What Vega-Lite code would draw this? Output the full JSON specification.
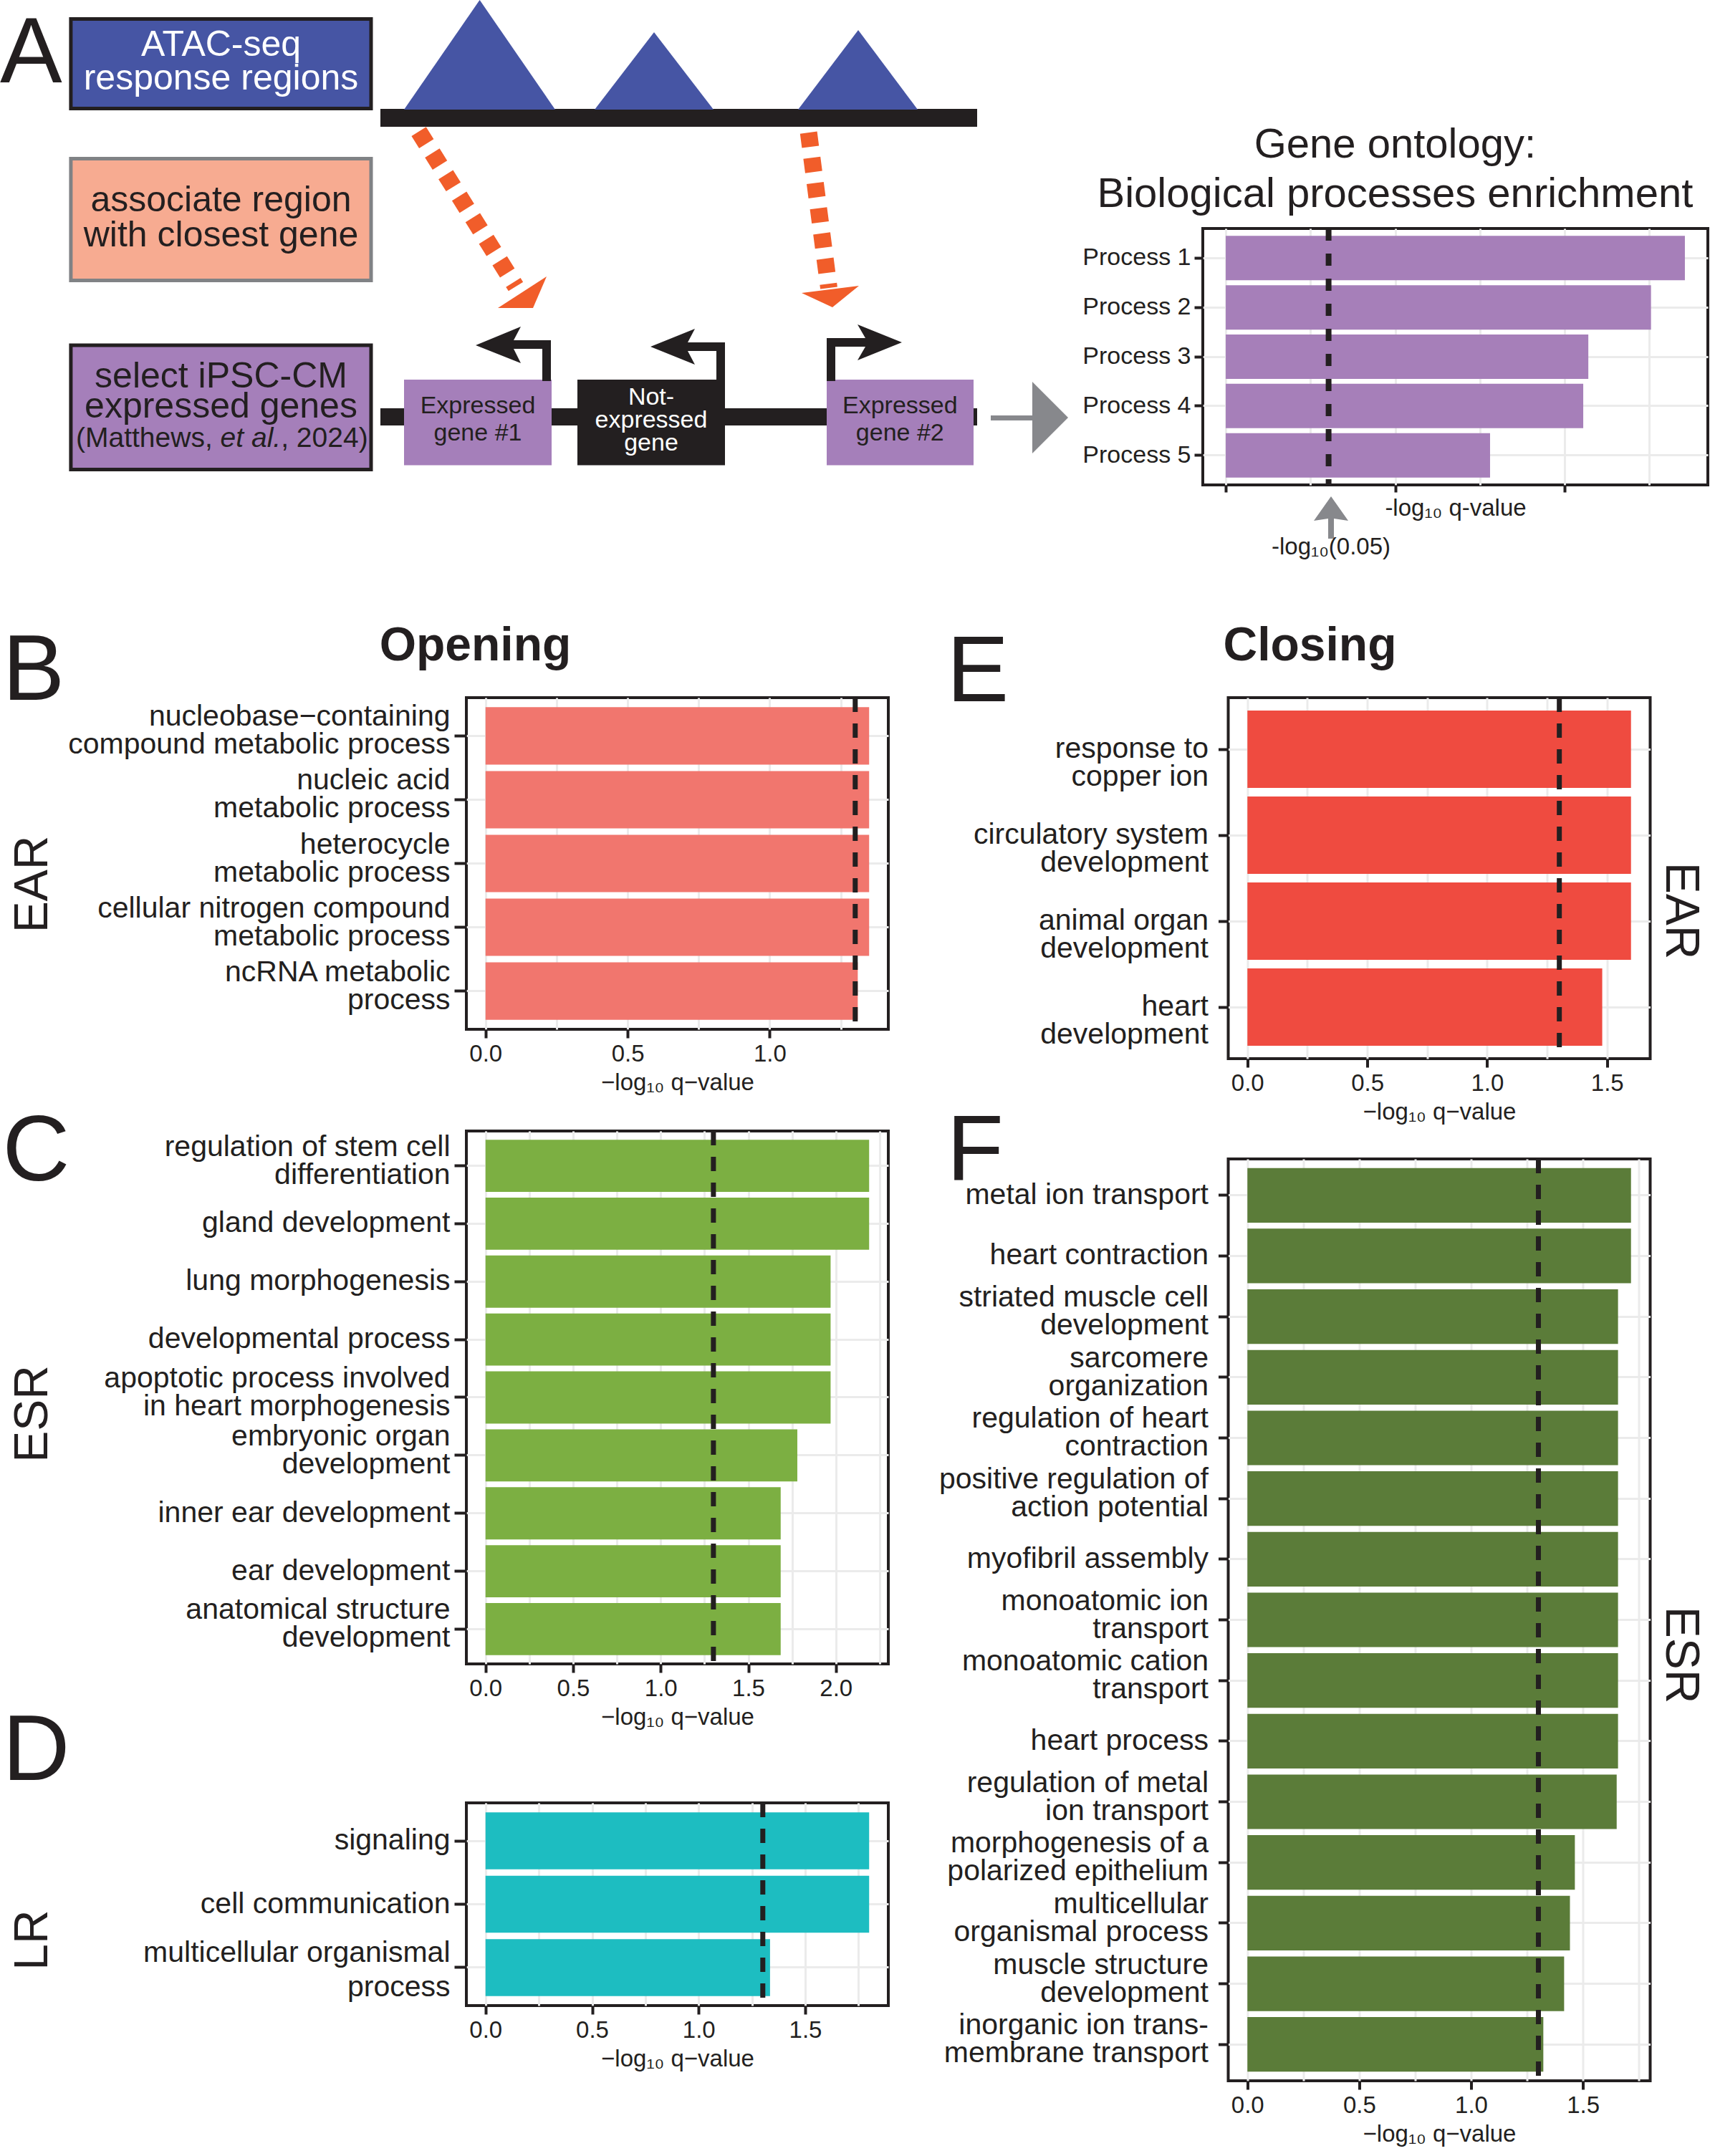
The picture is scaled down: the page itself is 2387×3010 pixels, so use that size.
{
  "$schema": "https://vega.github.io/schema/vega-lite/v6.json",
  "padding": 0,
  "background": "white",
  "bounds": "flush",
  "spacing": 655,
  "config": {
    "font": "Liberation Sans",
    "view": {"stroke": "#231F20", "strokeWidth": 4},
    "axis": {"labelFont": "Liberation Sans", "titleFont": "Liberation Sans", "labelColor": "#231F20", "titleColor": "#231F20", "tickColor": "#231F20", "tickWidth": 4, "gridColor": "#EBEBEB", "gridWidth": 3, "domain": false, "titleFontWeight": "normal", "labelLimit": 1000},
    "title": {"font": "Liberation Sans", "color": "#231F20", "fontWeight": "normal"},
    "text": {"font": "Liberation Sans"}
  },
  "vconcat": [
    {
      "hconcat": [
        {
          "width": 554, "height": 617,
          "view": {"stroke": null},
          "layer": [
            {
              "data": {"values": [
                {"x": 53.1, "x2": 136.4, "y": 15.2, "y2": 17.7, "k": "black"},
                {"x": 53.1, "x2": 136.4, "y": 57.0, "y2": 59.4, "k": "black"},
                {"x": 56.4, "x2": 77.0, "y": 53.0, "y2": 64.95, "k": "purple"},
                {"x": 80.6, "x2": 101.2, "y": 53.0, "y2": 64.95, "k": "black"},
                {"x": 115.4, "x2": 135.9, "y": 53.0, "y2": 64.95, "k": "purple"}
              ]},
              "mark": {"type": "rect", "strokeWidth": 0},
              "encoding": {
                "x": {"field": "x", "type": "quantitative", "scale": {"domain": [65.1, 120.5], "nice": false, "zero": false}, "axis": null},
                "x2": {"field": "x2"},
                "y": {"field": "y", "type": "quantitative", "scale": {"domain": [31.9, 93.6], "nice": false, "zero": false, "reverse": true}, "axis": null},
                "y2": {"field": "y2"},
                "color": {"field": "k", "type": "nominal", "scale": {"domain": ["blue", "salmon", "purple", "black", "orange", "gray", "white"], "range": ["#4655A4", "#F7AB91", "#A57FBA", "#231F20", "#F15D2A", "#87888C", "#FFFFFF"]}, "legend": null}
              }
            },
            {
              "data": {"values": [
                {"x": 9.89, "x2": 51.8, "y": 2.65, "y2": 15.15, "k": "blue", "e": "black"},
                {"x": 9.89, "x2": 51.8, "y": 22.15, "y2": 39.15, "k": "salmon", "e": "gray"},
                {"x": 9.89, "x2": 51.8, "y": 48.2, "y2": 65.55, "k": "purple", "e": "black"}
              ]},
              "mark": {"type": "rect", "strokeWidth": 5},
              "encoding": {
                "x": {"field": "x", "type": "quantitative", "scale": {"domain": [65.1, 120.5], "nice": false, "zero": false}, "axis": null},
                "x2": {"field": "x2"},
                "y": {"field": "y", "type": "quantitative", "scale": {"domain": [31.9, 93.6], "nice": false, "zero": false, "reverse": true}, "axis": null},
                "y2": {"field": "y2"},
                "color": {"field": "k", "type": "nominal", "scale": {"domain": ["blue", "salmon", "purple", "black", "orange", "gray", "white"], "range": ["#4655A4", "#F7AB91", "#A57FBA", "#231F20", "#F15D2A", "#87888C", "#FFFFFF"]}, "legend": null},
                "stroke": {"field": "e", "type": "nominal", "scale": {"domain": ["black", "gray"], "range": ["#231F20", "#808285"]}, "legend": null}
              }
            },
            {
              "data": {"values": [
                {"s": "T1", "i": 1, "x": 56.4, "y": 15.3, "k": "blue"},
                {"s": "T1", "i": 2, "x": 66.96, "y": 0.0, "k": "blue"},
                {"s": "T1", "i": 3, "x": 77.5, "y": 15.3, "k": "blue"},
                {"s": "T2", "i": 1, "x": 83.0, "y": 15.3, "k": "blue"},
                {"s": "T2", "i": 2, "x": 91.3, "y": 4.5, "k": "blue"},
                {"s": "T2", "i": 3, "x": 99.6, "y": 15.3, "k": "blue"},
                {"s": "T3", "i": 1, "x": 111.4, "y": 15.3, "k": "blue"},
                {"s": "T3", "i": 2, "x": 119.8, "y": 4.2, "k": "blue"},
                {"s": "T3", "i": 3, "x": 128.1, "y": 15.3, "k": "blue"},
                {"s": "A1", "i": 1, "x": 76.9, "y": 53.2, "k": "black"},
                {"s": "A1", "i": 2, "x": 76.9, "y": 47.5, "k": "black"},
                {"s": "A1", "i": 3, "x": 71.7, "y": 47.5, "k": "black"},
                {"s": "A1", "i": 4, "x": 72.7, "y": 45.6, "k": "black"},
                {"s": "A1", "i": 5, "x": 66.4, "y": 48.2, "k": "black"},
                {"s": "A1", "i": 6, "x": 72.7, "y": 50.7, "k": "black"},
                {"s": "A1", "i": 7, "x": 71.7, "y": 48.7, "k": "black"},
                {"s": "A1", "i": 8, "x": 75.7, "y": 48.7, "k": "black"},
                {"s": "A1", "i": 9, "x": 75.7, "y": 53.2, "k": "black"},
                {"s": "A2", "i": 1, "x": 101.2, "y": 53.2, "k": "black"},
                {"s": "A2", "i": 2, "x": 101.2, "y": 47.8, "k": "black"},
                {"s": "A2", "i": 3, "x": 96.0, "y": 47.8, "k": "black"},
                {"s": "A2", "i": 4, "x": 97.0, "y": 45.9, "k": "black"},
                {"s": "A2", "i": 5, "x": 90.8, "y": 48.4, "k": "black"},
                {"s": "A2", "i": 6, "x": 97.0, "y": 50.9, "k": "black"},
                {"s": "A2", "i": 7, "x": 96.0, "y": 49.0, "k": "black"},
                {"s": "A2", "i": 8, "x": 100.0, "y": 49.0, "k": "black"},
                {"s": "A2", "i": 9, "x": 100.0, "y": 53.2, "k": "black"},
                {"s": "A3", "i": 1, "x": 115.4, "y": 53.2, "k": "black"},
                {"s": "A3", "i": 2, "x": 115.4, "y": 47.2, "k": "black"},
                {"s": "A3", "i": 3, "x": 120.8, "y": 47.2, "k": "black"},
                {"s": "A3", "i": 4, "x": 119.7, "y": 45.3, "k": "black"},
                {"s": "A3", "i": 5, "x": 125.9, "y": 47.8, "k": "black"},
                {"s": "A3", "i": 6, "x": 119.7, "y": 50.3, "k": "black"},
                {"s": "A3", "i": 7, "x": 120.8, "y": 48.4, "k": "black"},
                {"s": "A3", "i": 8, "x": 116.6, "y": 48.4, "k": "black"},
                {"s": "A3", "i": 9, "x": 116.6, "y": 53.2, "k": "black"},
                {"s": "H1", "i": 1, "x": 76.3, "y": 38.6, "k": "orange"},
                {"s": "H1", "i": 2, "x": 74.4, "y": 43.0, "k": "orange"},
                {"s": "H1", "i": 3, "x": 69.5, "y": 43.0, "k": "orange"},
                {"s": "H2", "i": 1, "x": 111.9, "y": 40.9, "k": "orange"},
                {"s": "H2", "i": 2, "x": 119.9, "y": 39.9, "k": "orange"},
                {"s": "H2", "i": 3, "x": 116.2, "y": 42.9, "k": "orange"},
                {"s": "G1", "i": 1, "x": 138.3, "y": 58.0, "k": "gray"},
                {"s": "G1", "i": 2, "x": 144.1, "y": 58.0, "k": "gray"},
                {"s": "G1", "i": 3, "x": 144.1, "y": 53.3, "k": "gray"},
                {"s": "G1", "i": 4, "x": 149.1, "y": 58.3, "k": "gray"},
                {"s": "G1", "i": 5, "x": 144.1, "y": 63.3, "k": "gray"},
                {"s": "G1", "i": 6, "x": 144.1, "y": 58.7, "k": "gray"},
                {"s": "G1", "i": 7, "x": 138.3, "y": 58.7, "k": "gray"},
                {"s": "G2", "i": 1, "x": 185.4, "y": 75.2, "k": "gray"},
                {"s": "G2", "i": 2, "x": 185.4, "y": 72.4, "k": "gray"},
                {"s": "G2", "i": 3, "x": 183.4, "y": 72.7, "k": "gray"},
                {"s": "G2", "i": 4, "x": 185.8, "y": 69.3, "k": "gray"},
                {"s": "G2", "i": 5, "x": 188.2, "y": 72.7, "k": "gray"},
                {"s": "G2", "i": 6, "x": 186.2, "y": 72.4, "k": "gray"},
                {"s": "G2", "i": 7, "x": 186.2, "y": 75.2, "k": "gray"}
              ]},
              "mark": {"type": "line", "filled": true, "strokeWidth": 0},
              "encoding": {
                "x": {"field": "x", "type": "quantitative", "scale": {"domain": [65.1, 120.5], "nice": false, "zero": false}, "axis": null},
                "y": {"field": "y", "type": "quantitative", "scale": {"domain": [31.9, 93.6], "nice": false, "zero": false, "reverse": true}, "axis": null},
                "detail": {"field": "s", "type": "nominal"},
                "order": {"field": "i", "type": "quantitative"},
                "color": {"field": "k", "type": "nominal", "scale": {"domain": ["blue", "salmon", "purple", "black", "orange", "gray", "white"], "range": ["#4655A4", "#F7AB91", "#A57FBA", "#231F20", "#F15D2A", "#87888C", "#FFFFFF"]}, "legend": null}
              }
            },
            {
              "data": {"values": [
                {"s": "D1", "i": 1, "x": 58.46, "y": 18.36, "k": "orange"},
                {"s": "D1", "i": 2, "x": 72.0, "y": 40.0, "k": "orange"},
                {"s": "D2", "i": 1, "x": 112.87, "y": 18.51, "k": "orange"},
                {"s": "D2", "i": 2, "x": 115.7, "y": 40.2, "k": "orange"}
              ]},
              "mark": {"type": "line", "strokeWidth": 24, "strokeDash": [20, 15.5], "strokeCap": "butt"},
              "encoding": {
                "x": {"field": "x", "type": "quantitative", "scale": {"domain": [65.1, 120.5], "nice": false, "zero": false}, "axis": null},
                "y": {"field": "y", "type": "quantitative", "scale": {"domain": [31.9, 93.6], "nice": false, "zero": false, "reverse": true}, "axis": null},
                "detail": {"field": "s", "type": "nominal"},
                "order": {"field": "i", "type": "quantitative"},
                "color": {"field": "k", "type": "nominal", "scale": {"domain": ["blue", "salmon", "purple", "black", "orange", "gray", "white"], "range": ["#4655A4", "#F7AB91", "#A57FBA", "#231F20", "#F15D2A", "#87888C", "#FFFFFF"]}, "legend": null}
              }
            },
            {
              "data": {"values": [{"t": "A", "x": 0, "y": 11.48, "k": "black"}]},
              "mark": {"type": "text", "fontSize": 130, "align": "left", "baseline": "alphabetic"},
              "encoding": {
                "x": {"field": "x", "type": "quantitative", "scale": {"domain": [65.1, 120.5], "nice": false, "zero": false}, "axis": null},
                "y": {"field": "y", "type": "quantitative", "scale": {"domain": [31.9, 93.6], "nice": false, "zero": false, "reverse": true}, "axis": null},
                "text": {"field": "t"},
                "color": {"field": "k", "type": "nominal", "scale": {"domain": ["blue", "salmon", "purple", "black", "orange", "gray", "white"], "range": ["#4655A4", "#F7AB91", "#A57FBA", "#231F20", "#F15D2A", "#87888C", "#FFFFFF"]}, "legend": null}
              }
            },
            {
              "data": {"values": [
                {"t": "ATAC-seq", "x": 30.85, "y": 7.76, "k": "white"},
                {"t": "response regions", "x": 30.85, "y": 12.5, "k": "white"},
                {"t": "associate region", "x": 30.85, "y": 29.5, "k": "black"},
                {"t": "with closest gene", "x": 30.85, "y": 34.4, "k": "black"},
                {"t": "select iPSC-CM", "x": 30.85, "y": 54.1, "k": "black"},
                {"t": "expressed genes", "x": 30.85, "y": 58.3, "k": "black"}
              ]},
              "mark": {"type": "text", "fontSize": 50, "align": "center", "baseline": "alphabetic"},
              "encoding": {
                "x": {"field": "x", "type": "quantitative", "scale": {"domain": [65.1, 120.5], "nice": false, "zero": false}, "axis": null},
                "y": {"field": "y", "type": "quantitative", "scale": {"domain": [31.9, 93.6], "nice": false, "zero": false, "reverse": true}, "axis": null},
                "text": {"field": "t"},
                "color": {"field": "k", "type": "nominal", "scale": {"domain": ["blue", "salmon", "purple", "black", "orange", "gray", "white"], "range": ["#4655A4", "#F7AB91", "#A57FBA", "#231F20", "#F15D2A", "#87888C", "#FFFFFF"]}, "legend": null}
              }
            },
            {
              "data": {"values": [
                {"t": "(Matthews,", "x": 10.6, "y": 62.35, "k": "black"},
                {"t": ", 2024)", "x": 39.22, "y": 62.35, "k": "black"}
              ]},
              "mark": {"type": "text", "fontSize": 39, "align": "left", "baseline": "alphabetic"},
              "encoding": {
                "x": {"field": "x", "type": "quantitative", "scale": {"domain": [65.1, 120.5], "nice": false, "zero": false}, "axis": null},
                "y": {"field": "y", "type": "quantitative", "scale": {"domain": [31.9, 93.6], "nice": false, "zero": false, "reverse": true}, "axis": null},
                "text": {"field": "t"},
                "color": {"field": "k", "type": "nominal", "scale": {"domain": ["blue", "salmon", "purple", "black", "orange", "gray", "white"], "range": ["#4655A4", "#F7AB91", "#A57FBA", "#231F20", "#F15D2A", "#87888C", "#FFFFFF"]}, "legend": null}
              }
            },
            {
              "data": {"values": [{"t": "et al.", "x": 30.76, "y": 62.35, "k": "black"}]},
              "mark": {"type": "text", "fontSize": 39, "fontStyle": "italic", "align": "left", "baseline": "alphabetic"},
              "encoding": {
                "x": {"field": "x", "type": "quantitative", "scale": {"domain": [65.1, 120.5], "nice": false, "zero": false}, "axis": null},
                "y": {"field": "y", "type": "quantitative", "scale": {"domain": [31.9, 93.6], "nice": false, "zero": false, "reverse": true}, "axis": null},
                "text": {"field": "t"},
                "color": {"field": "k", "type": "nominal", "scale": {"domain": ["blue", "salmon", "purple", "black", "orange", "gray", "white"], "range": ["#4655A4", "#F7AB91", "#A57FBA", "#231F20", "#F15D2A", "#87888C", "#FFFFFF"]}, "legend": null}
              }
            },
            {
              "data": {"values": [
                {"t": "Expressed", "x": 66.7, "y": 57.7, "k": "black"},
                {"t": "gene #1", "x": 66.7, "y": 61.5, "k": "black"},
                {"t": "Expressed", "x": 125.63, "y": 57.7, "k": "black"},
                {"t": "gene #2", "x": 125.63, "y": 61.5, "k": "black"},
                {"t": "Not-", "x": 90.9, "y": 56.5, "k": "white"},
                {"t": "expressed", "x": 90.9, "y": 59.7, "k": "white"},
                {"t": "gene", "x": 90.9, "y": 62.9, "k": "white"}
              ]},
              "mark": {"type": "text", "fontSize": 34, "align": "center", "baseline": "alphabetic"},
              "encoding": {
                "x": {"field": "x", "type": "quantitative", "scale": {"domain": [65.1, 120.5], "nice": false, "zero": false}, "axis": null},
                "y": {"field": "y", "type": "quantitative", "scale": {"domain": [31.9, 93.6], "nice": false, "zero": false, "reverse": true}, "axis": null},
                "text": {"field": "t"},
                "color": {"field": "k", "type": "nominal", "scale": {"domain": ["blue", "salmon", "purple", "black", "orange", "gray", "white"], "range": ["#4655A4", "#F7AB91", "#A57FBA", "#231F20", "#F15D2A", "#87888C", "#FFFFFF"]}, "legend": null}
              }
            },
            {
              "data": {"values": [{"t": "-log₁₀(0.05)", "x": 185.8, "y": 77.4, "k": "black"}]},
              "mark": {"type": "text", "fontSize": 33, "align": "center", "baseline": "alphabetic"},
              "encoding": {
                "x": {"field": "x", "type": "quantitative", "scale": {"domain": [65.1, 120.5], "nice": false, "zero": false}, "axis": null},
                "y": {"field": "y", "type": "quantitative", "scale": {"domain": [31.9, 93.6], "nice": false, "zero": false, "reverse": true}, "axis": null},
                "text": {"field": "t"},
                "color": {"field": "k", "type": "nominal", "scale": {"domain": ["blue", "salmon", "purple", "black", "orange", "gray", "white"], "range": ["#4655A4", "#F7AB91", "#A57FBA", "#231F20", "#F15D2A", "#87888C", "#FFFFFF"]}, "legend": null}
              }
            }
          ]
        },
        {
          "width": 705, "height": 358,
          "title": {"text": ["Gene ontology:", "Biological processes enrichment"], "fontSize": 58, "lineHeight": 69, "offset": 14, "anchor": "middle", "frame": "bounds"},
          "layer": [
            {
              "data": {"values": [
                {"p": "Process 1", "v": 2.71},
                {"p": "Process 2", "v": 2.51},
                {"p": "Process 3", "v": 2.14},
                {"p": "Process 4", "v": 2.11},
                {"p": "Process 5", "v": 1.56}
              ]},
              "mark": {"type": "bar", "color": "#A67FB9"},
              "encoding": {
                "y": {"field": "p", "type": "nominal", "sort": null, "scale": {"paddingInner": 0.1, "paddingOuter": 0.15}, "axis": {"title": null, "labelFontSize": 34, "tickSize": 12, "labelPadding": 5, "grid": true, "bandPosition": 0.5}},
                "x": {"field": "v", "type": "quantitative", "scale": {"domain": [-0.1355, 2.8455], "nice": false, "zero": false}, "axis": {"values": [0, 1, 2], "labels": false, "tickSize": 10, "grid": false, "title": "-log₁₀ q-value", "titleFontSize": 33, "titleY": 42.5, "titleBaseline": "alphabetic"}}
              }
            },
            {
              "data": {"values": [{"q": 0.607}]},
              "mark": {"type": "rule", "strokeDash": [17, 18], "strokeWidth": 8, "color": "#231F20"},
              "encoding": {
                "x": {"field": "q", "type": "quantitative", "scale": {"domain": [-0.1355, 2.8455], "nice": false, "zero": false}, "axis": {"orient": "top", "values": [0, 0.5, 1, 1.5, 2, 2.5], "grid": true, "labels": false, "ticks": false, "domain": false, "title": null}}
              }
            }
          ],
          "resolve": {"axis": {"x": "independent"}}
        }
      ],
      "spacing": 474,
      "bounds": "flush"
    },
    {
      "hconcat": [
        {
          "vconcat": [
            {
              "width": 589, "height": 463,
              "title": {"text": "EAR", "orient": "left", "anchor": "middle", "frame": "group", "fontSize": 66, "offset": -77, "dx": -29},
              "layer": [
                {
                  "data": {"values": [
                    {"term": "nucleobase−containing\ncompound metabolic process", "v": 1.35},
                    {"term": "nucleic acid\nmetabolic process", "v": 1.35},
                    {"term": "heterocycle\nmetabolic process", "v": 1.35},
                    {"term": "cellular nitrogen compound\nmetabolic process", "v": 1.35},
                    {"term": "ncRNA metabolic\nprocess", "v": 1.31}
                  ]},
                  "mark": {"type": "bar", "color": "#F1766E"},
                  "encoding": {
                    "y": {"field": "term", "type": "nominal", "sort": null, "scale": {"paddingInner": 0.1, "paddingOuter": 0.15}, "axis": {"title": "B", "titleAngle": 0, "titleAlign": "left", "titleBaseline": "alphabetic", "titleX": -648, "titleY": 2, "titleFontSize": 130, "labelExpr": "split(datum.label, '\\n')", "labelFontSize": 41, "labelLineHeight": 39, "labelOffset": {"condition": {"test": "indexof(datum.value, '\\n') >= 0", "value": -26}, "value": 0}, "tickSize": 17, "labelPadding": 6, "grid": true, "bandPosition": 0.5}},
                    "x": {"field": "v", "type": "quantitative", "scale": {"domain": [-0.0675, 1.4175], "nice": false, "zero": false}, "axis": {"values": [0, 0.5, 1], "format": ".1f", "grid": false, "labelFontSize": 33, "tickSize": 12, "labelPadding": 6, "title": "−log₁₀ q−value", "titleFontSize": 33, "titleY": 84, "titleBaseline": "alphabetic"}}
                  }
                },
                {
                  "data": {"values": [{"q": 1.30103}]},
                  "mark": {"type": "rule", "strokeDash": [20, 16], "strokeWidth": 7, "color": "#231F20"},
                  "encoding": {
                    "x": {"field": "q", "type": "quantitative", "scale": {"domain": [-0.0675, 1.4175], "nice": false, "zero": false}, "axis": {"orient": "top", "values": [0, 0.25, 0.5, 0.75, 1, 1.25], "grid": true, "labels": false, "ticks": false, "domain": false, "title": "Opening", "titleX": 12, "titleY": -53, "titleAlign": "center", "titleBaseline": "alphabetic", "titleAngle": 0, "titleFontSize": 66, "titleFontWeight": "bold"}}
                  }
                }
              ],
              "resolve": {"axis": {"x": "independent"}}
            },
            {"width": 589, "height": 61.5, "data": {"values": []}, "mark": "point", "view": {"stroke": null}},
            {
              "width": 589, "height": 744,
              "title": {"text": "ESR", "orient": "left", "anchor": "middle", "frame": "group", "fontSize": 66, "offset": -77, "dx": -23},
              "layer": [
                {
                  "data": {"values": [
                    {"term": "regulation of stem cell\ndifferentiation", "v": 2.19},
                    {"term": "gland development", "v": 2.19},
                    {"term": "lung morphogenesis", "v": 1.97},
                    {"term": "developmental process", "v": 1.97},
                    {"term": "apoptotic process involved\nin heart morphogenesis", "v": 1.97},
                    {"term": "embryonic organ\ndevelopment", "v": 1.78},
                    {"term": "inner ear development", "v": 1.685},
                    {"term": "ear development", "v": 1.685},
                    {"term": "anatomical structure\ndevelopment", "v": 1.685}
                  ]},
                  "mark": {"type": "bar", "color": "#7CAF42"},
                  "encoding": {
                    "y": {"field": "term", "type": "nominal", "sort": null, "scale": {"paddingInner": 0.1, "paddingOuter": 0.15}, "axis": {"title": "C", "titleAngle": 0, "titleAlign": "left", "titleBaseline": "alphabetic", "titleX": -648, "titleY": 68.5, "titleFontSize": 130, "labelExpr": "split(datum.label, '\\n')", "labelFontSize": 41, "labelLineHeight": 39, "labelOffset": {"condition": {"test": "indexof(datum.value, '\\n') >= 0", "value": -26}, "value": 0}, "tickSize": 17, "labelPadding": 6, "grid": true, "bandPosition": 0.5}},
                    "x": {"field": "v", "type": "quantitative", "scale": {"domain": [-0.1095, 2.2995], "nice": false, "zero": false}, "axis": {"values": [0, 0.5, 1, 1.5, 2], "format": ".1f", "grid": false, "labelFontSize": 33, "tickSize": 12, "labelPadding": 6, "title": "−log₁₀ q−value", "titleFontSize": 33, "titleY": 84, "titleBaseline": "alphabetic"}}
                  }
                },
                {
                  "data": {"values": [{"q": 1.30103}]},
                  "mark": {"type": "rule", "strokeDash": [20, 16], "strokeWidth": 7, "color": "#231F20"},
                  "encoding": {
                    "x": {"field": "q", "type": "quantitative", "scale": {"domain": [-0.1095, 2.2995], "nice": false, "zero": false}, "axis": {"orient": "top", "values": [0, 0.25, 0.5, 0.75, 1, 1.25, 1.5, 1.75, 2, 2.25], "grid": true, "labels": false, "ticks": false, "domain": false, "title": null}}
                  }
                }
              ],
              "resolve": {"axis": {"x": "independent"}}
            },
            {"width": 589, "height": 114, "data": {"values": []}, "mark": "point", "view": {"stroke": null}},
            {
              "width": 589, "height": 283,
              "title": {"text": "LR", "orient": "left", "anchor": "middle", "frame": "group", "fontSize": 66, "offset": -77, "dx": -50},
              "layer": [
                {
                  "data": {"values": [
                    {"term": "signaling", "v": 1.80},
                    {"term": "cell communication", "v": 1.80},
                    {"term": "multicellular organismal\nprocess", "v": 1.335}
                  ]},
                  "mark": {"type": "bar", "color": "#1DBDC1"},
                  "encoding": {
                    "y": {"field": "term", "type": "nominal", "sort": null, "scale": {"paddingInner": 0.1, "paddingOuter": 0.15}, "axis": {"title": "D", "titleAngle": 0, "titleAlign": "left", "titleBaseline": "alphabetic", "titleX": -648, "titleY": -32.6, "titleFontSize": 130, "labelExpr": "split(datum.label, '\\n')", "labelFontSize": 41, "labelLineHeight": 48, "labelOffset": {"condition": {"test": "indexof(datum.value, '\\n') >= 0", "value": -20}, "value": 0}, "tickSize": 17, "labelPadding": 6, "grid": true, "bandPosition": 0.5}},
                    "x": {"field": "v", "type": "quantitative", "scale": {"domain": [-0.09, 1.89], "nice": false, "zero": false}, "axis": {"values": [0, 0.5, 1, 1.5], "format": ".1f", "grid": false, "labelFontSize": 33, "tickSize": 12, "labelPadding": 6, "title": "−log₁₀ q−value", "titleFontSize": 33, "titleY": 84, "titleBaseline": "alphabetic"}}
                  }
                },
                {
                  "data": {"values": [{"q": 1.30103}]},
                  "mark": {"type": "rule", "strokeDash": [20, 16], "strokeWidth": 7, "color": "#231F20"},
                  "encoding": {
                    "x": {"field": "q", "type": "quantitative", "scale": {"domain": [-0.09, 1.89], "nice": false, "zero": false}, "axis": {"orient": "top", "values": [0, 0.25, 0.5, 0.75, 1, 1.25, 1.5, 1.75], "grid": true, "labels": false, "ticks": false, "domain": false, "title": null}}
                  }
                }
              ],
              "resolve": {"axis": {"x": "independent"}}
            }
          ],
          "spacing": 40,
          "bounds": "flush"
        },
        {
          "vconcat": [
            {
              "width": 589, "height": 504,
              "title": {"text": "EAR", "orient": "right", "anchor": "middle", "frame": "group", "fontSize": 66, "offset": 8, "dx": 45.5},
              "layer": [
                {
                  "data": {"values": [
                    {"term": "response to\ncopper ion", "v": 1.60},
                    {"term": "circulatory system\ndevelopment", "v": 1.60},
                    {"term": "animal organ\ndevelopment", "v": 1.60},
                    {"term": "heart\ndevelopment", "v": 1.48}
                  ]},
                  "mark": {"type": "bar", "color": "#EF4B40"},
                  "encoding": {
                    "y": {"field": "term", "type": "nominal", "sort": null, "scale": {"paddingInner": 0.1, "paddingOuter": 0.15}, "axis": {"title": "E", "titleAngle": 0, "titleAlign": "left", "titleBaseline": "alphabetic", "titleX": -393.5, "titleY": 4, "titleFontSize": 130, "labelExpr": "split(datum.label, '\\n')", "labelFontSize": 41, "labelLineHeight": 39, "tickSize": 14, "labelPadding": 14, "grid": true, "bandPosition": 0.5}},
                    "x": {"field": "v", "type": "quantitative", "scale": {"domain": [-0.08, 1.68], "nice": false, "zero": false}, "axis": {"values": [0, 0.5, 1, 1.5], "format": ".1f", "grid": false, "labelFontSize": 33, "tickSize": 12, "labelPadding": 6, "title": "−log₁₀ q−value", "titleFontSize": 33, "titleY": 84, "titleBaseline": "alphabetic"}}
                  }
                },
                {
                  "data": {"values": [{"q": 1.30103}]},
                  "mark": {"type": "rule", "strokeDash": [20, 16], "strokeWidth": 7, "color": "#231F20"},
                  "encoding": {
                    "x": {"field": "q", "type": "quantitative", "scale": {"domain": [-0.08, 1.68], "nice": false, "zero": false}, "axis": {"orient": "top", "values": [0, 0.25, 0.5, 0.75, 1, 1.25, 1.5], "grid": true, "labels": false, "ticks": false, "domain": false, "title": "Closing", "titleX": 113.5, "titleY": -53, "titleAlign": "center", "titleBaseline": "alphabetic", "titleAngle": 0, "titleFontSize": 66, "titleFontWeight": "bold"}}
                  }
                }
              ],
              "resolve": {"axis": {"x": "independent"}}
            },
            {"width": 589, "height": 60, "data": {"values": []}, "mark": "point", "view": {"stroke": null}},
            {
              "width": 589, "height": 1287,
              "title": {"text": "ESR", "orient": "right", "anchor": "middle", "frame": "group", "fontSize": 66, "offset": 8, "dx": 49},
              "layer": [
                {
                  "data": {"values": [
                    {"term": "metal ion transport", "v": 1.715},
                    {"term": "heart contraction", "v": 1.715},
                    {"term": "striated muscle cell\ndevelopment", "v": 1.657},
                    {"term": "sarcomere\norganization", "v": 1.657},
                    {"term": "regulation of heart\ncontraction", "v": 1.657},
                    {"term": "positive regulation of\naction potential", "v": 1.657},
                    {"term": "myofibril assembly", "v": 1.657},
                    {"term": "monoatomic ion\ntransport", "v": 1.657},
                    {"term": "monoatomic cation\ntransport", "v": 1.657},
                    {"term": "heart process", "v": 1.657},
                    {"term": "regulation of metal\nion transport", "v": 1.651},
                    {"term": "morphogenesis of a\npolarized epithelium", "v": 1.464},
                    {"term": "multicellular\norganismal process", "v": 1.442},
                    {"term": "muscle structure\ndevelopment", "v": 1.416},
                    {"term": "inorganic ion trans-\nmembrane transport", "v": 1.323}
                  ]},
                  "mark": {"type": "bar", "color": "#5B7C39"},
                  "encoding": {
                    "y": {"field": "term", "type": "nominal", "sort": null, "scale": {"paddingInner": 0.1, "paddingOuter": 0.15}, "axis": {"title": "F", "titleAngle": 0, "titleAlign": "left", "titleBaseline": "alphabetic", "titleX": -393.5, "titleY": 28, "titleFontSize": 130, "labelExpr": "split(datum.label, '\\n')", "labelFontSize": 41, "labelLineHeight": 39, "labelOffset": {"condition": {"test": "indexof(datum.value, '\\n') >= 0", "value": -26}, "value": 0}, "tickSize": 14, "labelPadding": 14, "grid": true, "bandPosition": 0.5}},
                    "x": {"field": "v", "type": "quantitative", "scale": {"domain": [-0.08575, 1.80075], "nice": false, "zero": false}, "axis": {"values": [0, 0.5, 1, 1.5], "format": ".1f", "grid": false, "labelFontSize": 33, "tickSize": 12, "labelPadding": 6, "title": "−log₁₀ q−value", "titleFontSize": 33, "titleY": 84, "titleBaseline": "alphabetic"}}
                  }
                },
                {
                  "data": {"values": [{"q": 1.30103}]},
                  "mark": {"type": "rule", "strokeDash": [20, 16], "strokeWidth": 7, "color": "#231F20"},
                  "encoding": {
                    "x": {"field": "q", "type": "quantitative", "scale": {"domain": [-0.08575, 1.80075], "nice": false, "zero": false}, "axis": {"orient": "top", "values": [0, 0.25, 0.5, 0.75, 1, 1.25, 1.5, 1.75], "grid": true, "labels": false, "ticks": false, "domain": false, "title": null}}
                  }
                }
              ],
              "resolve": {"axis": {"x": "independent"}}
            }
          ],
          "spacing": 40,
          "bounds": "flush"
        }
      ],
      "spacing": 1063.5,
      "bounds": "flush"
    }
  ]
}
